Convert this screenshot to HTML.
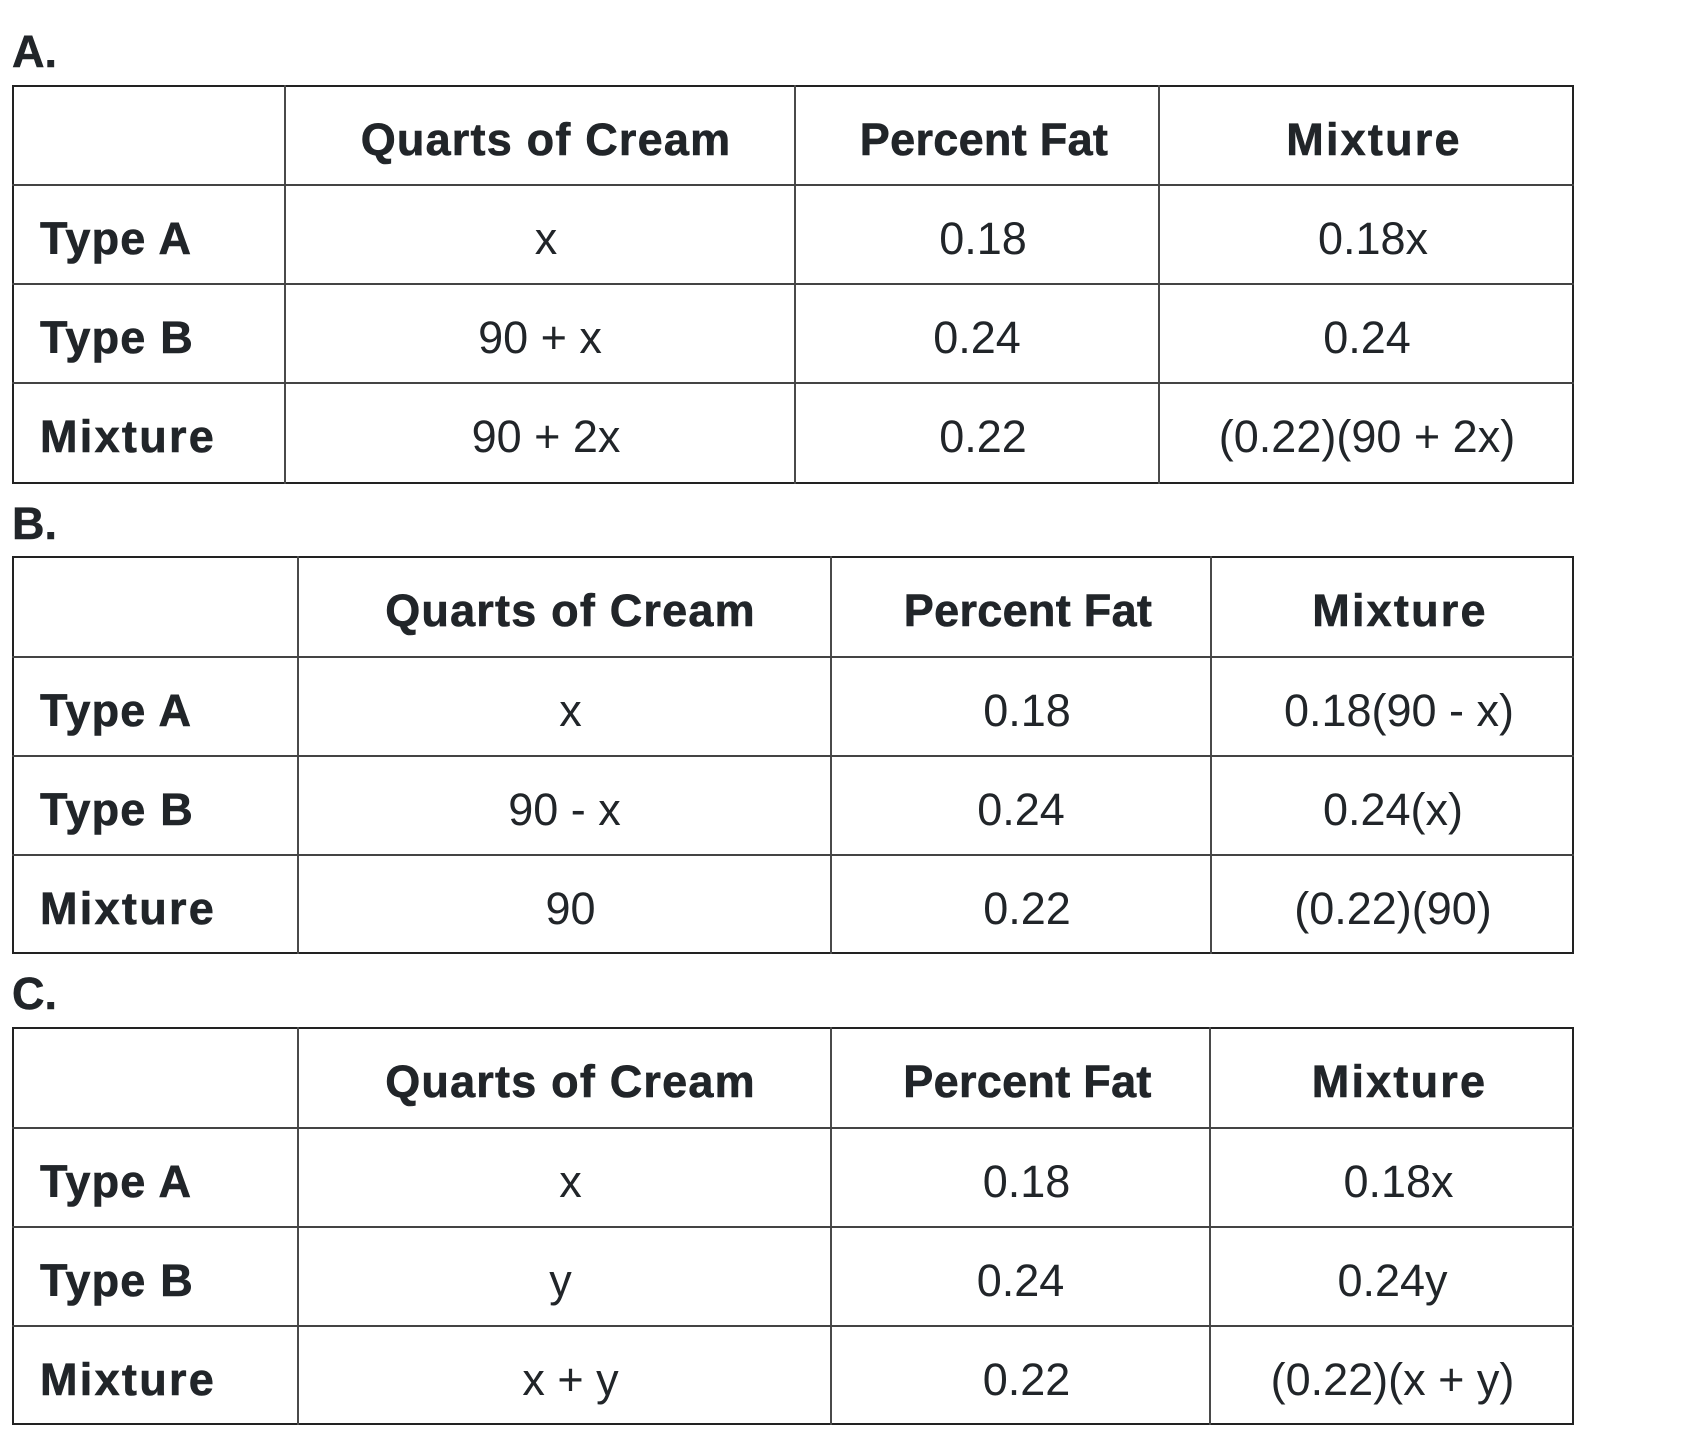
<!DOCTYPE html>
<html>
<head>
<meta charset="utf-8">
<style>
  html, body { margin:0; padding:0; background:#fff; }
  body { width:1699px; height:1437px; position:relative; overflow:hidden;
         font-family:"Liberation Sans", Arial, sans-serif; color:#212529; }
  .lbl { position:absolute; left:12px; height:50px; line-height:50px; font-size:45px; font-weight:bold; color:#212529; -webkit-text-stroke:0.5px #212529; }
  .t { position:absolute; left:12px; width:1562px; }
  .ob { position:absolute; left:0; top:0; right:0; bottom:0; border:2px solid #222; box-sizing:border-box; }
  .v { position:absolute; top:0; bottom:0; width:2px; background:#4a4a4a; }
  .h { position:absolute; left:0; right:0; height:2px; background:#444; }
  .c { position:absolute; height:99px; line-height:99px; padding-top:5px; font-size:45px; text-align:center; white-space:nowrap; box-sizing:content-box; }
  .b { font-weight:bold; -webkit-text-stroke:0.6px #212529; }
  .q { letter-spacing:1.2px; }
  .p { letter-spacing:0.3px; }
  .m { letter-spacing:2.2px; }
  .rl { text-align:left; font-weight:bold; letter-spacing:1.2px; -webkit-text-stroke:0.6px #212529; }
  .rm { letter-spacing:2.3px; }
  .s { padding-left:12px; }
  .s2 { padding-left:14px; }
</style>
</head>
<body>

<!-- ===== A ===== -->
<div class="lbl" style="top:27px;">A.</div>
<div class="t" style="top:85px;height:399px;">
  <div class="ob"></div>
  <div class="v" style="left:272px;"></div>
  <div class="v" style="left:782px;"></div>
  <div class="v" style="left:1146px;"></div>
  <div class="h" style="top:99px;"></div>
  <div class="h" style="top:198px;"></div>
  <div class="h" style="top:297px;"></div>

  <div class="c b q s" style="top:0;left:274px;width:496px;">Quarts of Cream</div>
  <div class="c b p s2" style="top:0;left:784px;width:348px;">Percent Fat</div>
  <div class="c b m s2" style="top:0;left:1148px;width:400px;">Mixture</div>

  <div class="c rl" style="top:99px;left:28px;width:240px;">Type A</div>
  <div class="c s" style="top:99px;left:274px;width:496px;">x</div>
  <div class="c s" style="top:99px;left:784px;width:350px;">0.18</div>
  <div class="c s" style="top:99px;left:1148px;width:402px;">0.18x</div>

  <div class="c rl" style="top:198px;left:28px;width:240px;">Type B</div>
  <div class="c" style="top:198px;left:274px;width:508px;">90 + x</div>
  <div class="c" style="top:198px;left:784px;width:362px;">0.24</div>
  <div class="c" style="top:198px;left:1148px;width:414px;">0.24</div>

  <div class="c rl rm" style="top:297px;left:28px;width:240px;">Mixture</div>
  <div class="c s" style="top:297px;left:274px;width:496px;">90 + 2x</div>
  <div class="c s" style="top:297px;left:784px;width:350px;">0.22</div>
  <div class="c" style="top:297px;left:1148px;width:414px;">(0.22)(90 + 2x)</div>
</div>

<!-- ===== B ===== -->
<div class="lbl" style="top:499px;">B.</div>
<div class="t" style="top:556px;height:398px;">
  <div class="ob"></div>
  <div class="v" style="left:285px;"></div>
  <div class="v" style="left:818px;"></div>
  <div class="v" style="left:1198px;"></div>
  <div class="h" style="top:100px;"></div>
  <div class="h" style="top:199px;"></div>
  <div class="h" style="top:298px;"></div>

  <div class="c b q s" style="top:0;left:287px;width:519px;">Quarts of Cream</div>
  <div class="c b p s2" style="top:0;left:820px;width:364px;">Percent Fat</div>
  <div class="c b m s2" style="top:0;left:1200px;width:348px;">Mixture</div>

  <div class="c rl" style="top:100px;left:28px;width:250px;">Type A</div>
  <div class="c s" style="top:100px;left:287px;width:519px;">x</div>
  <div class="c s" style="top:100px;left:820px;width:366px;">0.18</div>
  <div class="c s" style="top:100px;left:1200px;width:350px;">0.18(90 - x)</div>

  <div class="c rl" style="top:199px;left:28px;width:250px;">Type B</div>
  <div class="c" style="top:199px;left:287px;width:531px;">90 - x</div>
  <div class="c" style="top:199px;left:820px;width:378px;">0.24</div>
  <div class="c" style="top:199px;left:1200px;width:362px;">0.24(x)</div>

  <div class="c rl rm" style="top:298px;left:28px;width:250px;">Mixture</div>
  <div class="c s" style="top:298px;left:287px;width:519px;">90</div>
  <div class="c s" style="top:298px;left:820px;width:366px;">0.22</div>
  <div class="c" style="top:298px;left:1200px;width:362px;">(0.22)(90)</div>
</div>

<!-- ===== C ===== -->
<div class="lbl" style="top:969px;">C.</div>
<div class="t" style="top:1027px;height:398px;">
  <div class="ob"></div>
  <div class="v" style="left:285px;"></div>
  <div class="v" style="left:818px;"></div>
  <div class="v" style="left:1197px;"></div>
  <div class="h" style="top:100px;"></div>
  <div class="h" style="top:199px;"></div>
  <div class="h" style="top:298px;"></div>

  <div class="c b q s" style="top:0;left:287px;width:519px;">Quarts of Cream</div>
  <div class="c b p s2" style="top:0;left:820px;width:363px;">Percent Fat</div>
  <div class="c b m s2" style="top:0;left:1199px;width:349px;">Mixture</div>

  <div class="c rl" style="top:100px;left:28px;width:250px;">Type A</div>
  <div class="c s" style="top:100px;left:287px;width:519px;">x</div>
  <div class="c s" style="top:100px;left:820px;width:365px;">0.18</div>
  <div class="c s" style="top:100px;left:1199px;width:351px;">0.18x</div>

  <div class="c rl" style="top:199px;left:28px;width:250px;">Type B</div>
  <div class="c" style="top:199px;left:283px;width:531px;">y</div>
  <div class="c" style="top:199px;left:820px;width:377px;">0.24</div>
  <div class="c" style="top:199px;left:1199px;width:363px;">0.24y</div>

  <div class="c rl rm" style="top:298px;left:28px;width:250px;">Mixture</div>
  <div class="c s" style="top:298px;left:287px;width:519px;">x + y</div>
  <div class="c s" style="top:298px;left:820px;width:365px;">0.22</div>
  <div class="c" style="top:298px;left:1199px;width:363px;">(0.22)(x + y)</div>
</div>

</body>
</html>
